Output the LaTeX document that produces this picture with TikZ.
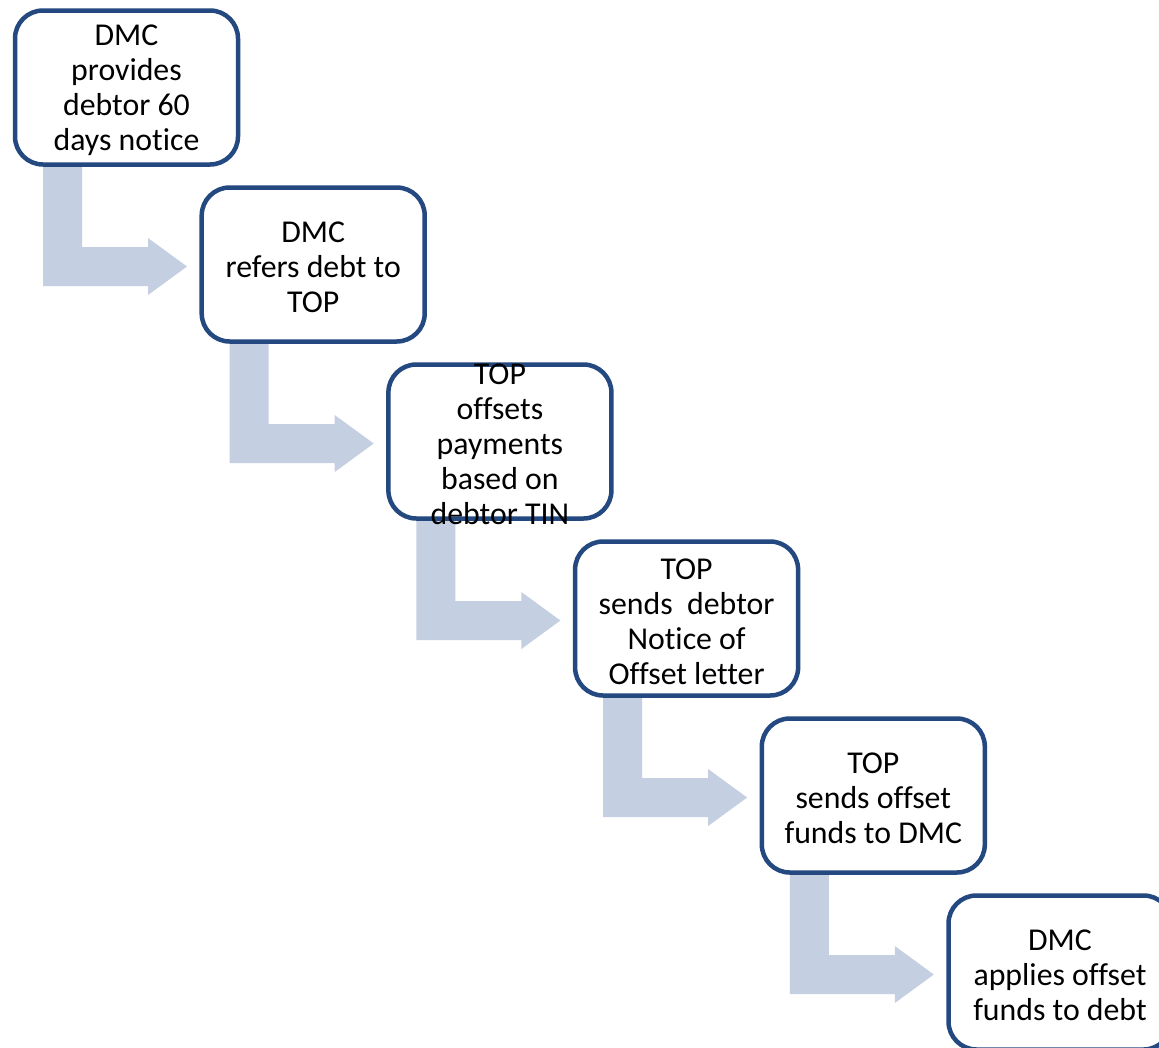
\documentclass[tikz,border=0pt]{standalone}
\usepackage{fontspec}
\setmainfont{Carlito}[Ligatures=NoCommon]
\usetikzlibrary{calc,backgrounds}
\definecolor{boxline}{RGB}{36,72,128}
\definecolor{flowfill}{RGB}{197,207,226}
\tikzset{
  stepbox/.style={draw=boxline, line width=4.5pt, fill=white, rounded corners=28pt,
    minimum width=223pt, minimum height=154pt, inner sep=0pt, outer sep=0pt},
  steptext/.style={align=center, inner sep=0pt, yshift=-3pt, font=\fontsize{31.8}{35}\selectfont},
  flow/.style={fill=flowfill, draw=none}
}
\newcommand{\bentarrow}[1]{%
  \fill[flow] ($(#1.south west)+(28,0)$) -- ($(#1.south west)+(67,0)$)
    -- ($(#1.south west)+(67,82.5)$) -- ($(#1.south west)+(133,82.5)$)
    -- ($(#1.south west)+(133,73.5)$) -- ($(#1.south west)+(172,102)$)
    -- ($(#1.south west)+(133,130.5)$) -- ($(#1.south west)+(133,121.5)$)
    -- ($(#1.south west)+(28,121.5)$) -- cycle;}
\begin{document}
\begin{tikzpicture}[x=1pt,y=-1pt]
\useasboundingbox (0,0) rectangle (1159,1047);
\clip (0,0) rectangle (1159,1047);
\node[stepbox] (b1) at (126.5,87.5) {};
\node[stepbox] (b2) at (313.2,264.5) {};
\node[stepbox] (b3) at (499.9,441.5) {};
\node[stepbox] (b4) at (686.6,618.5) {};
\node[stepbox] (b5) at (873.3,795.5) {};
\node[stepbox] (b6) at (1060,972.5) {};
\begin{scope}[on background layer]
  \fill[white] (0,0) rectangle (1159,1047);
  \foreach \i in {1,...,5}{\bentarrow{b\i}}
\end{scope}
\node[steptext] (t1) at (b1.center) {DMC\\provides\\debtor 60\\days notice};
\node[steptext] (t2) at (b2.center) {DMC\\refers debt to\\TOP};
\node[steptext] (t3) at (b3.center) {TOP\\offsets\\payments\\based on\\debtor TIN};
\node[steptext] (t4) at (b4.center) {TOP\\sends~~debtor\\Notice of\\Offset letter};
\node[steptext] (t5) at (b5.center) {TOP\\sends offset\\funds to DMC};
\node[steptext] (t6) at (b6.center) {DMC\\applies offset\\funds to debt};
\end{tikzpicture}
\end{document}
